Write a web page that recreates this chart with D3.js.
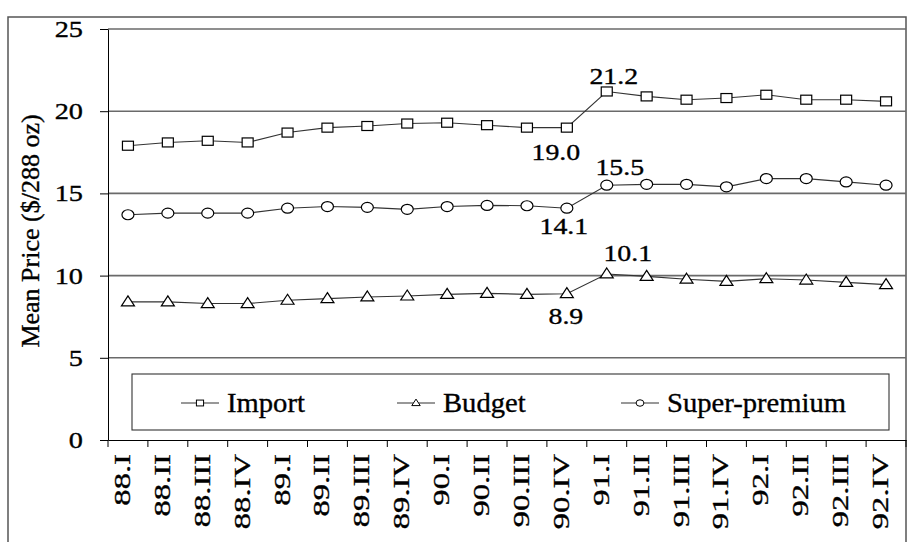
<!DOCTYPE html>
<html>
<head>
<meta charset="utf-8">
<script src="https://cdn.jsdelivr.net/npm/d3@7"></script>
<style>
  html, body { margin: 0; padding: 0; background: #fff; }
  svg { display: block; font-family: "Liberation Serif", "Times New Roman", serif; }
  svg text { fill: #000; stroke: #000; stroke-width: 0.35px; }
</style>
</head>
<body>
<svg id="chart" width="920" height="542"></svg>
<script>
// quarters 1988-1992
const quarters = ["88.I","88.II","88.III","88.IV","89.I","89.II","89.III","89.IV",
  "90.I","90.II","90.III","90.IV","91.I","91.II","91.III","91.IV","92.I","92.II","92.III","92.IV"];

// mean price ($/288 oz)
const importPrice = [17.9,18.1,18.2,18.1, 18.7,19.0,19.1,19.25, 19.3,19.15,19.0,19.0,
  21.2,20.9,20.7,20.8, 21.0,20.7,20.7,20.6];
const budgetPrice = [8.4,8.4,8.3,8.3, 8.5,8.6,8.7,8.76, 8.86,8.92,8.86,8.9,
  10.1,9.95,9.78,9.65, 9.81,9.73,9.59,9.45];
const superPrice = [13.7,13.8,13.8,13.8, 14.1,14.2,14.15,14.03, 14.2,14.27,14.25,14.1,
  15.5,15.55,15.55,15.4, 15.9,15.9,15.7,15.5];

const seriesNames = ["Import", "Budget", "Super-premium"];
const yTicks = [0, 5, 10, 15, 20, 25];

// which points carry a value label (series, quarter index)
const callouts = [
  { s: 0, i: 12 }, { s: 0, i: 11 },
  { s: 2, i: 12 }, { s: 2, i: 11 },
  { s: 1, i: 12 }, { s: 1, i: 11 }
];

const svg = d3.select("#chart");
const plotL = 108, plotR = 906, plotT = 29, plotB = 440;

const x = d3.scaleBand().domain(quarters).range([plotL, plotR]);
const y = d3.scaleLinear().domain([0, 25]).range([plotB, plotT]);

const series = [
  { name: seriesNames[0], values: importPrice, mark: "square" },
  { name: seriesNames[1], values: budgetPrice, mark: "triangle" },
  { name: seriesNames[2], values: superPrice, mark: "circle" }
];

// outer frame
svg.append("rect")
  .attr("x", 8).attr("y", 17).attr("width", 898).attr("height", 540)
  .attr("fill", "none").attr("stroke", "#555").attr("stroke-width", 1.5);

// gridlines
svg.append("g").selectAll("line")
  .data(yTicks.filter(d => d > 0))
  .join("line")
  .attr("x1", plotL).attr("x2", plotR)
  .attr("y1", d => y(d)).attr("y2", d => y(d))
  .attr("stroke", "#6a6a6a").attr("stroke-width", 1.6);

// axes (labels drawn separately)
svg.append("g")
  .attr("transform", `translate(${plotL},0)`)
  .call(d3.axisLeft(y).tickValues(yTicks).tickSize(8).tickSizeOuter(0).tickFormat(""))
  .call(g => g.select(".domain").attr("stroke", "#000"))
  .call(g => g.selectAll(".tick line").attr("stroke", "#000"));

svg.append("g")
  .attr("transform", `translate(0,${plotB})`)
  .call(d3.axisBottom(x).tickValues([]).tickSizeOuter(0))
  .call(g => g.select(".domain").attr("stroke", "#000"));

// band edge ticks below the x axis
const edges = quarters.map(q => x(q)).concat([plotR]);
svg.append("g").selectAll("line")
  .data(edges)
  .join("line")
  .attr("x1", d => d).attr("x2", d => d)
  .attr("y1", plotB).attr("y2", plotB + 7)
  .attr("stroke", "#000");

// y tick labels
svg.append("g").selectAll("text")
  .data(yTicks)
  .join("text")
  .attr("transform", d => `translate(83,${y(d) + 8}) scale(1.18,1)`)
  .attr("text-anchor", "end")
  .style("font-size", "24px")
  .text(d => d);

// x tick labels, rotated
svg.append("g").selectAll("text")
  .data(quarters)
  .join("text")
  .attr("transform", d => `translate(${x(d) + x.bandwidth() / 2 + 2},454) rotate(-90) scale(1.36,1)`)
  .attr("text-anchor", "end")
  .style("font-size", "24px")
  .text(d => d);

// y axis title
svg.append("text")
  .attr("transform", "translate(39,231) rotate(-90)")
  .attr("text-anchor", "middle")
  .style("font-size", "26px")
  .text("Mean Price ($/288 oz)");

// marker drawing
function drawMark(g, kind, cx, cy, s) {
  if (kind === "square") {
    g.append("rect")
      .attr("x", cx - 5.5 * s).attr("y", cy - 4.5 * s)
      .attr("width", 11 * s).attr("height", 9 * s);
  } else if (kind === "circle") {
    g.append("ellipse")
      .attr("cx", cx).attr("cy", cy).attr("rx", 6 * s).attr("ry", 5 * s);
  } else {
    const w = 6.5 * s, h = 10 * s;
    g.append("path")
      .attr("d", `M${cx},${cy - h * 0.6}L${cx + w},${cy + h * 0.4}L${cx - w},${cy + h * 0.4}Z`);
  }
}

const line = d3.line()
  .x((d, i) => x(quarters[i]) + x.bandwidth() / 2)
  .y(d => y(d));

series.forEach(sr => {
  svg.append("path")
    .datum(sr.values)
    .attr("d", line)
    .attr("fill", "none")
    .attr("stroke", "#333")
    .attr("stroke-width", 1.1);

  const mg = svg.append("g")
    .attr("fill", "#fff").attr("stroke", "#000").attr("stroke-width", 1.2);
  sr.values.forEach((v, i) => {
    drawMark(mg, sr.mark, x(quarters[i]) + x.bandwidth() / 2, y(v), 1);
  });
});

// value callouts
const fmt = d3.format(".1f");
const calloutOffset = {
  "0-12": [7, -7], "0-11": [-11, 32],
  "2-12": [13, -10], "2-11": [-3, 26],
  "1-12": [21, -13], "1-11": [-1, 30]
};
svg.append("g").selectAll("text")
  .data(callouts)
  .join("text")
  .attr("transform", d => {
    const v = series[d.s].values[d.i];
    const off = calloutOffset[`${d.s}-${d.i}`];
    const px = x(quarters[d.i]) + x.bandwidth() / 2 + off[0];
    return `translate(${px},${y(v) + off[1]}) scale(1.16,1)`;
  })
  .attr("text-anchor", "middle")
  .style("font-size", "24px")
  .text(d => fmt(series[d.s].values[d.i]));

// legend
const legend = svg.append("g");
legend.append("rect")
  .attr("x", 132).attr("y", 374).attr("width", 757).attr("height", 56)
  .attr("fill", "#fff").attr("stroke", "#333").attr("stroke-width", 1.1);

const legendX = [181, 397, 621];
series.forEach((sr, k) => {
  const lx = legendX[k], ly = 403;
  legend.append("line")
    .attr("x1", lx).attr("x2", lx + 38)
    .attr("y1", ly).attr("y2", ly)
    .attr("stroke", "#333").attr("stroke-width", 1.1);
  const mg = legend.append("g")
    .attr("fill", "#fff").attr("stroke", "#000").attr("stroke-width", 1);
  drawMark(mg, sr.mark, lx + 19, ly, 0.65);
  legend.append("text")
    .attr("transform", `translate(${lx + 46},${ly + 9}) scale(1.06,1)`)
    .style("font-size", "27px")
    .text(sr.name);
});
</script>
</body>
</html>
